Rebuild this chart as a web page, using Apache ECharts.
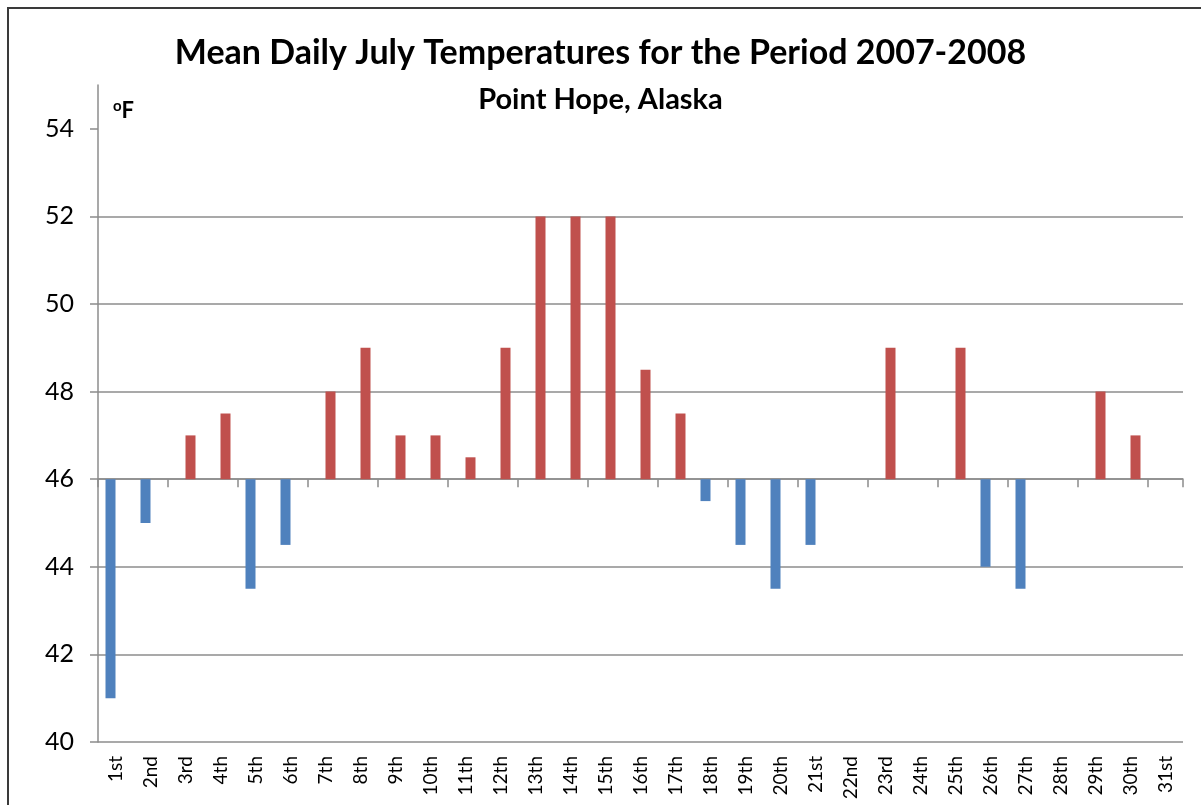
<!DOCTYPE html>
<html>
<head>
<meta charset="utf-8">
<script src="https://cdn.jsdelivr.net/npm/echarts@6/dist/echarts.min.js"></script>
<style>
  html, body { margin: 0; padding: 0; background: #fff; }
  #chart { width: 1201px; height: 805px; }
</style>
</head>
<body>
<div id="chart"></div>
<script>
// July days
const days = ['1st', '2nd', '3rd', '4th', '5th', '6th', '7th', '8th', '9th', '10th',
  '11th', '12th', '13th', '14th', '15th', '16th', '17th', '18th', '19th', '20th',
  '21st', '22nd', '23rd', '24th', '25th', '26th', '27th', '28th', '29th', '30th', '31st']
// mean daily temperature, deg F
const meanTemps = [41, 45, 47, 47.5, 43.5, 44.5, 48, 49, 47, 47,
  46.5, 49, 52, 52, 52, 48.5, 47.5, 45.5, 44.5, 43.5,
  44.5, 46, 49, 46, 49, 44, 43.5, 46, 48, 47, 46]
const baseline = 46
const yTicks = [40, 42, 44, 46, 48, 50, 52, 54]
const yMin = 40
const yMax = 55

// bars grow from the baseline, so values are plotted relative to it
const coolDays = meanTemps.map(t => (t < baseline ? t - baseline : null))
const warmDays = meanTemps.map(t => (t > baseline ? t - baseline : null))

const chart = echarts.init(document.getElementById('chart'))
const font = 'Lato, "Liberation Sans", sans-serif'
const gridColor = '#8c8c8c'

const option = {
  animation: false,
  backgroundColor: '#fff',
  textStyle: { fontFamily: font },
  title: [
    {
      text: 'Mean Daily July Temperatures for the Period 2007-2008',
      left: 'center',
      top: 31,
      textStyle: { fontSize: 34, fontWeight: 'bold', color: '#000', fontFamily: font }
    },
    {
      text: 'Point Hope, Alaska',
      left: 'center',
      top: 80,
      textStyle: { fontSize: 29, fontWeight: 'bold', color: '#000', fontFamily: font }
    },
    {
      text: '{sup|o}{f|F}',
      left: 108,
      top: 94,
      textStyle: {
        rich: {
          sup: { fontSize: 15, fontWeight: 'bold', color: '#000', verticalAlign: 'top', padding: [0, 0, 8, 0] },
          f: { fontSize: 22, fontWeight: 'bold', color: '#000' }
        }
      }
    }
  ],
  graphic: [
    {
      type: 'rect',
      shape: { x: 8, y: 8, width: 1210, height: 820 },
      style: { fill: 'none', stroke: '#3a3a3a', lineWidth: 2 },
      silent: true
    }
  ],
  grid: {
    left: 98,
    right: 18,
    top: 85,
    bottom: 63
  },
  xAxis: [
    {
      type: 'category',
      data: days,
      position: 'bottom',
      axisLine: { show: false, onZero: false },
      axisTick: { show: false },
      axisLabel: {
        rotate: 90,
        interval: 0,
        margin: 14,
        fontSize: 19,
        color: '#000',
        fontFamily: font
      }
    },
    {
      type: 'category',
      data: days,
      position: 'bottom',
      axisLine: { show: true, onZero: true, lineStyle: { color: gridColor, width: 1.5 } },
      axisTick: { show: true, length: 8, lineStyle: { color: gridColor, width: 1.5 } },
      axisLabel: { show: false }
    }
  ],
  yAxis: {
    type: 'value',
    min: yMin - baseline,
    max: yMax - baseline,
    interval: 2,
    axisLine: { show: true, lineStyle: { color: gridColor, width: 1.5 } },
    axisTick: {
      show: true,
      length: 8,
      customValues: yTicks.map(v => v - baseline),
      lineStyle: { color: gridColor, width: 1.5 }
    },
    axisLabel: {
      margin: 24,
      fontSize: 25,
      color: '#000',
      fontFamily: font,
      customValues: yTicks.map(v => v - baseline),
      formatter: v => String(v + baseline)
    },
    splitLine: {
      show: true,
      showMaxLine: false,
      lineStyle: { color: gridColor, width: 1.5 }
    }
  },
  series: [
    {
      name: 'Below',
      type: 'bar',
      xAxisIndex: 0,
      data: coolDays,
      barWidth: 10,
      barGap: '0%',
      itemStyle: { color: '#4f81bd' }
    },
    {
      name: 'Above',
      type: 'bar',
      xAxisIndex: 0,
      data: warmDays,
      barWidth: 10,
      barGap: '0%',
      itemStyle: { color: '#c0504d' }
    }
  ]
}
chart.setOption(option)
</script>
</body>
</html>
